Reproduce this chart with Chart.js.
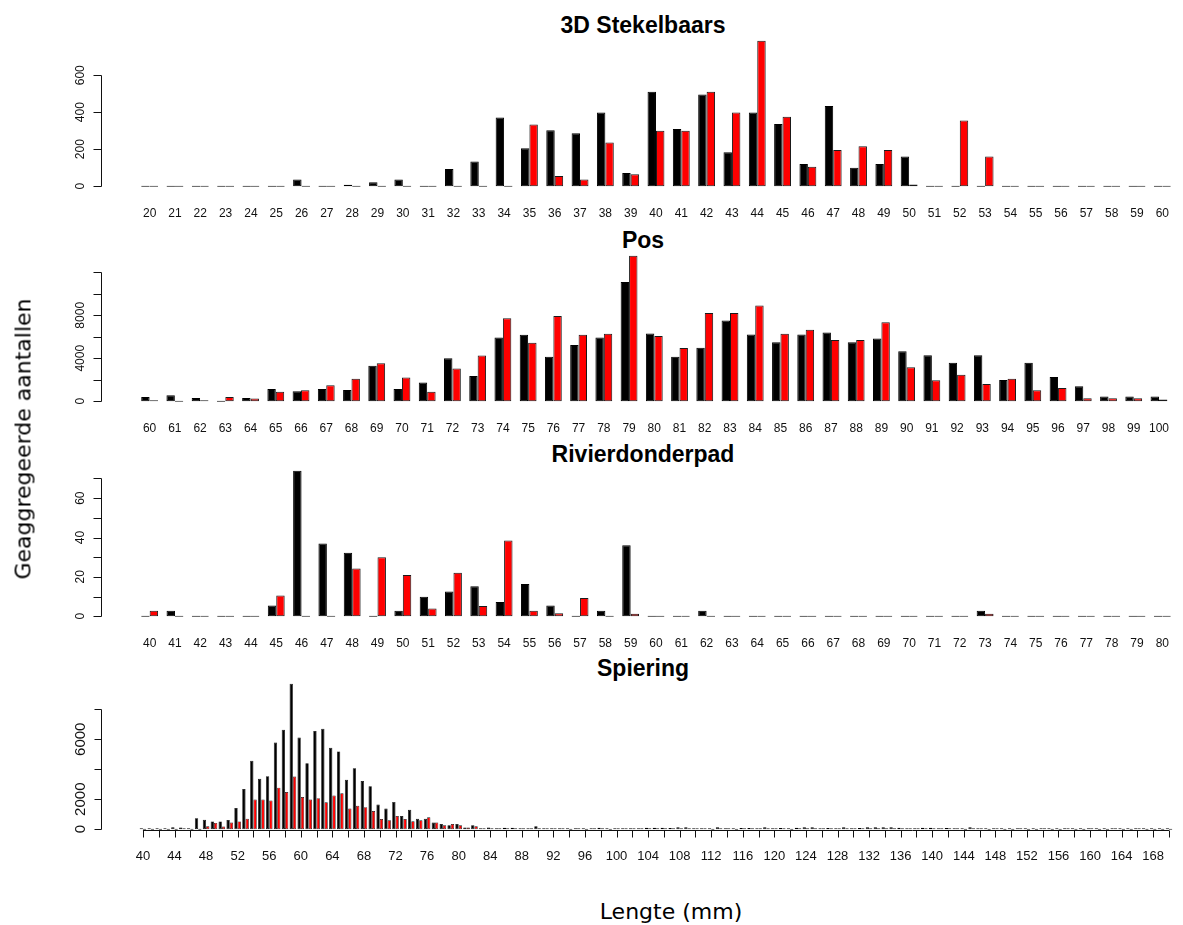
<!DOCTYPE html>
<html>
<head>
<meta charset="utf-8">
<script src="https://cdn.jsdelivr.net/npm/chart.js@4.4.1/dist/chart.umd.min.js"></script>
<style>
  body { margin: 0; background: #fff; }
  #wrap { position: relative; width: 1183px; height: 925px; overflow: hidden; background: #fff; }
  canvas { position: absolute; left: 0; }
  .ttl { position: absolute; font-family: "Liberation Sans", Arial, sans-serif; font-weight: bold;
         font-size: 23px; color: #000; transform: translate(-50%, -50%); white-space: nowrap; }
  .axt { position: absolute; font-family: "DejaVu Sans", Verdana, sans-serif; font-size: 22px;
         color: #000; white-space: nowrap; transform: translate(-50%, -50%); }
</style>
</head>
<body>
<div id="wrap">
  <div class="ttl" style="left:643px; top:25px">3D Stekelbaars</div>
  <div class="ttl" style="left:643px; top:240px">Pos</div>
  <div class="ttl" style="left:643px; top:454px">Rivierdonderpad</div>
  <div class="ttl" style="left:643px; top:668px">Spiering</div>

  <canvas id="c1" width="1183" height="197" style="top:30px"></canvas>
  <canvas id="c2" width="1183" height="197" style="top:245px"></canvas>
  <canvas id="c3" width="1183" height="197" style="top:460px"></canvas>
  <canvas id="c4" width="1183" height="197" style="top:673px"></canvas>

  <div class="axt" style="left:671px; top:911px">Lengte (mm)</div>
  <div class="axt" style="left:23px; top:439px; transform: translate(-50%, -50%) rotate(-90deg)">Geaggregeerde aantallen</div>
</div>

<script>
// ---- 3D Stekelbaars (20-60 mm) ----
const stekelbaarsLengths = [20,21,22,23,24,25,26,27,28,29,30,31,32,33,34,35,36,37,38,39,40,
                            41,42,43,44,45,46,47,48,49,50,51,52,53,54,55,56,57,58,59,60];
const stekelbaarsBlack = [0,0,0,0,0,0,36,0,8,21,36,0,93,134,371,205,302,286,398,71,511,
                          309,496,184,398,336,120,434,100,120,161,0,0,0,0,0,0,0,0,0,0];
const stekelbaarsRed   = [0,0,0,0,0,0,0,0,0,0,0,0,0,0,0,334,55,36,236,64,300,
                          300,511,398,786,375,105,195,216,195,9,0,355,161,0,0,0,0,0,0,0];
const stekelbaarsYTicks  = [0,200,400,600];
const stekelbaarsYLabels = ['0','200','400','600'];

// ---- Pos (60-100 mm) ----
const posLengths = [60,61,62,63,64,65,66,67,68,69,70,71,72,73,74,75,76,77,78,79,80,
                    81,82,83,84,85,86,87,88,89,90,91,92,93,94,95,96,97,98,99,100];
const posBlack = [400,550,300,0,300,1140,920,1140,1050,3290,1140,1750,4000,2340,5940,6180,4150,5230,5940,11100,6310,
                  4150,4980,7510,6220,5480,6220,6400,5480,5850,4650,4280,3570,4280,1970,3570,2250,1380,430,430,430];
const posRed   = [30,0,90,400,250,890,1010,1480,2090,3540,2215,890,3050,4250,7720,5450,7940,6180,6280,13540,6060,
                  4950,8210,8210,8920,6280,6650,5690,5690,7350,3170,1940,2460,1600,2090,1010,1230,280,280,280,150];
const posYTicks  = [0,2000,4000,6000,8000,10000,12000];
const posYLabels = ['0','','4000','','8000','',''];

// ---- Rivierdonderpad (40-80 mm) ----
const donderpadLengths = [40,41,42,43,44,45,46,47,48,49,50,51,52,53,54,55,56,57,58,59,60,
                          61,62,63,64,65,66,67,68,69,70,71,72,73,74,75,76,77,78,79,80];
const donderpadBlack = [0,2.7,0,0,0,5.4,73.9,36.9,32.2,0,2.7,9.9,12.6,15.2,7.2,16.4,5.4,0,2.7,36,0,
                        0,2.7,0,0,0,0,0,0,0,0,0,0,2.7,0,0,0,0,0,0,0];
const donderpadRed   = [2.7,0,0,0,0,10.5,0,0,24.3,30,21,3.9,22.1,5.2,38.5,2.7,1.5,9.2,0,1.2,0,
                        0,0,0,0,0,0,0,0,0,0,0,0,1.3,0,0,0,0,0,0,0];
const donderpadYTicks  = [0,10,20,30,40,50,60,70];
const donderpadYLabels = ['0','','20','','40','','60',''];

// ---- Spiering (40-170 mm) ----
const spieringLengths = [40,41,42,43,44,45,46,47,48,49,50,51,52,53,54,55,56,57,58,59,
                         60,61,62,63,64,65,66,67,68,69,70,71,72,73,74,75,76,77,78,79,
                         80,81,82,83,84,85,86,87,88,89,90,91,92,93,94,95,96,97,98,99,
                         100,101,102,103,104,105,106,107,108,109,110,111,112,113,114,115,116,117,118,119,
                         120,121,122,123,124,125,126,127,128,129,130,131,132,133,134,135,136,137,138,139,
                         140,141,142,143,144,145,146,147,148,149,150,151,152,153,154,155,156,157,158,159,
                         160,161,162,163,164,165,166,167,168,169,170];
const spieringBlack = [40,40,40,40,130,110,40,725,630,520,
                       520,615,1410,2680,4570,3360,3540,5780,6640,9700,
                       6110,4400,6550,6700,5430,5190,3300,4070,3210,2860,
                       1650,1380,1820,880,1300,700,700,440,350,260,
                       350,110,260,20,110,60,100,100,40,40,
                       200,30,30,20,30,20,30,20,100,30,
                       60,30,60,60,100,100,100,80,130,130,
                       60,30,30,130,30,20,80,80,30,130,
                       60,80,30,100,130,130,30,80,30,130,
                       30,80,130,130,130,130,100,30,60,100,
                       100,30,80,30,20,130,30,20,30,20,
                       20,30,20,20,30,20,20,30,20,20,
                       30,20,20,30,20,20,30,20,20,30,
                       20];
const spieringRed   = [0,0,0,0,0,30,0,0,190,420,
                       175,440,520,700,1980,1980,1910,2770,2480,3520,
                       2150,1980,2070,1800,2240,2400,1380,1560,1470,1210,
                       680,590,880,680,530,590,790,440,260,350,
                       260,110,200,20,66,20,40,60,10,10,
                       20,10,10,10,0,10,0,10,20,0,
                       20,10,10,20,30,20,40,20,40,30,
                       10,10,0,40,10,0,20,30,10,40,
                       20,20,0,30,40,40,10,20,10,40,
                       10,20,40,40,40,30,40,10,20,30,
                       30,10,20,10,0,40,10,0,10,0,
                       0,10,0,0,10,0,0,10,0,0,
                       10,0,0,10,0,0,10,0,0,0,
                       0];
const spieringXLabels = [40,44,48,52,56,60,64,68,72,76,80,84,88,92,96,100,104,108,112,116,
                         120,124,128,132,136,140,144,148,152,156,160,164,168];
const spieringYTicks  = [0,2000,4000,6000,8000];
const spieringYLabels = ['0','2000','','6000',''];

const NARROW = '"Liberation Sans Narrow", "Liberation Sans", Arial, sans-serif';

// Draws the base-graphics style axes: a y axis set off to the left of the bars,
// with rotated tick labels, and (optionally) a tick-marked x axis along the zero line.
const baseAxes = {
  id: 'baseAxes',
  afterDraw(chart, args, o) {
    const ctx = chart.ctx;
    const ys = chart.scales.y;
    const xs = chart.scales.x;
    ctx.save();
    ctx.strokeStyle = '#111';
    ctx.lineWidth = 1;
    ctx.beginPath();
    const ax = o.axisX + 0.5;
    const yTop = Math.round(ys.getPixelForValue(o.yTicks[o.yTicks.length - 1])) + 0.5;
    const yBot = Math.round(ys.getPixelForValue(o.yTicks[0])) + 0.5;
    ctx.moveTo(ax, yBot);
    ctx.lineTo(ax, yTop);
    o.yTicks.forEach(t => {
      const py = Math.round(ys.getPixelForValue(t)) + 0.5;
      ctx.moveTo(ax, py);
      ctx.lineTo(ax - o.tickLen, py);
    });
    if (o.xTicks) {
      const py = Math.round(ys.getPixelForValue(0)) + 1.5;
      const cats = chart.data.labels;
      const x0 = xs.getPixelForValue(0);
      const x1 = xs.getPixelForValue(cats.length - 1);
      ctx.moveTo(x0, py);
      ctx.lineTo(x1, py);
      cats.forEach((c, i) => {
        if (!o.xTicks.includes(c)) return;
        const px = Math.round(xs.getPixelForValue(i)) + 0.5;
        ctx.moveTo(px, py);
        ctx.lineTo(px, py + o.tickLen);
      });
    }
    ctx.stroke();

    ctx.fillStyle = '#111';
    ctx.font = o.yFont;
    ctx.textAlign = 'center';
    ctx.textBaseline = 'middle';
    o.yTicks.forEach((t, i) => {
      if (!o.yLabels[i]) return;
      ctx.save();
      ctx.translate(o.labelX, ys.getPixelForValue(t));
      ctx.rotate(-Math.PI / 2);
      ctx.fillText(o.yLabels[i], 0, 0);
      ctx.restore();
    });
    ctx.restore();
  }
};

function panel(id, lengths, black, red, cfg) {
  const top = Math.max(...black, ...red);
  const shown = cfg.xLabels ? new Set(cfg.xLabels) : null;
  return new Chart(document.getElementById(id), {
    type: 'bar',
    data: {
      labels: lengths,
      datasets: [
        { data: black, backgroundColor: '#000', borderColor: '#000' },
        { data: red, backgroundColor: '#ff0000', borderColor: '#1a1a1a' }
      ]
    },
    options: {
      responsive: false,
      animation: false,
      events: [],
      layout: { padding: { left: cfg.padLeft, right: 1, top: 5, bottom: 0 } },
      datasets: {
        bar: {
          categoryPercentage: cfg.catPct,
          barPercentage: 1,
          borderWidth: cfg.border,
          borderSkipped: false,
          minBarLength: 1
        }
      },
      scales: {
        x: {
          type: 'category',
          grid: { display: false, drawTicks: false },
          border: { display: false },
          afterFit: s => { s.height = 35; },
          ticks: {
            autoSkip: false,
            maxRotation: 0,
            minRotation: 0,
            padding: cfg.xPad,
            color: '#111',
            font: { family: NARROW, size: cfg.xSize },
            callback: function (v, i) {
              const lab = this.getLabelForValue(v);
              return (!shown || shown.has(Number(lab))) ? lab : '';
            }
          }
        },
        y: {
          type: 'linear',
          display: false,
          min: -0.04 * top,
          max: 1.04 * top
        }
      },
      plugins: {
        legend: { display: false },
        title: { display: false },
        tooltip: { enabled: false },
        baseAxes: {
          axisX: 101,
          labelX: 81,
          tickLen: cfg.tickLen,
          yTicks: cfg.yTicks,
          yLabels: cfg.yLabels,
          yFont: cfg.yFont,
          xTicks: cfg.xTicks || null
        }
      }
    },
    plugins: [baseAxes]
  });
}

const smallPanel = {
  padLeft: 137, catPct: 2 / 3, border: 1, xPad: 14, xSize: 12, tickLen: 8,
  yFont: '12px ' + NARROW
};

panel('c1', stekelbaarsLengths, stekelbaarsBlack, stekelbaarsRed,
  Object.assign({}, smallPanel, { yTicks: stekelbaarsYTicks, yLabels: stekelbaarsYLabels }));
panel('c2', posLengths, posBlack, posRed,
  Object.assign({}, smallPanel, { yTicks: posYTicks, yLabels: posYLabels }));
panel('c3', donderpadLengths, donderpadBlack, donderpadRed,
  Object.assign({}, smallPanel, { yTicks: donderpadYTicks, yLabels: donderpadYLabels }));
panel('c4', spieringLengths, spieringBlack, spieringRed, {
  padLeft: 139, catPct: 0.84, border: 0.7, xPad: 14, xSize: 13, tickLen: 7,
  yFont: '15px ' + NARROW,
  yTicks: spieringYTicks, yLabels: spieringYLabels,
  xLabels: spieringXLabels,
  xTicks: spieringLengths.filter(c => c % 2 === 0)
});
</script>
</body>
</html>
